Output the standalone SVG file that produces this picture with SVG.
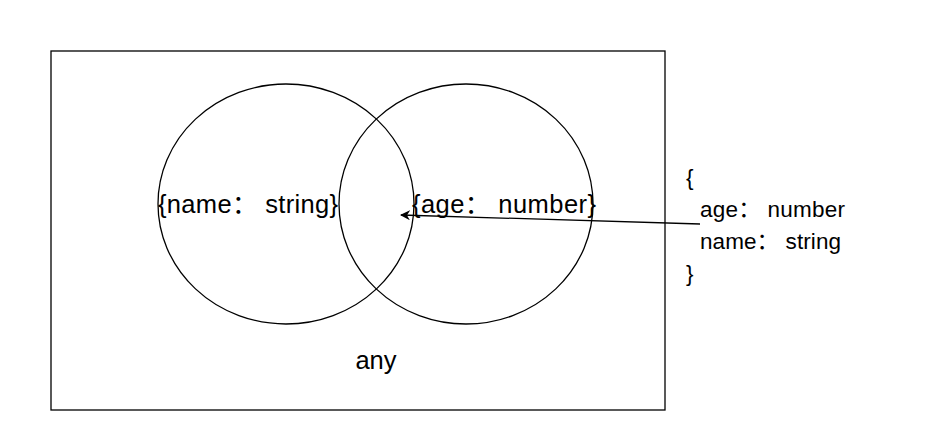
<svg xmlns="http://www.w3.org/2000/svg" width="936" height="446" viewBox="0 0 936 446">
<style>
.s{fill:none;stroke:#000;stroke-width:1.3}
.t{font-family:"Liberation Sans","Noto Sans CJK SC",Arial,sans-serif;fill:#000}
</style>
<defs>
<marker id="ah" viewBox="0 0 10 10" refX="9" refY="5" markerWidth="10" markerHeight="10" markerUnits="userSpaceOnUse" orient="auto">
<path d="M0,0 L10,5 L0,10 L3,5 Z" fill="#000"/>
</marker>
</defs>
<rect width="936" height="446" fill="#fff"/>
<g id="any">
<rect class="s" x="51" y="51" width="614" height="359"/>
<text class="t" x="376" y="369" font-size="25.5" text-anchor="middle">any</text>
</g>
<g id="name">
<ellipse class="s" cx="286" cy="204" rx="128" ry="120"/>
<text class="t" x="248" y="213" font-size="25.5" text-anchor="middle" textLength="180" lengthAdjust="spacing">{name： string}</text>
</g>
<g id="age">
<ellipse class="s" cx="466" cy="204" rx="127" ry="120"/>
<text class="t" x="504" y="213" font-size="25.5" text-anchor="middle" textLength="184" lengthAdjust="spacing">{age： number}</text>
</g>
<g id="obj">
<text class="t" x="686" y="185" font-size="22.5">{</text>
<text class="t" x="700" y="217" font-size="22.5" textLength="145" lengthAdjust="spacing">age： number</text>
<text class="t" x="700" y="249" font-size="22.5" textLength="141" lengthAdjust="spacing">name： string</text>
<text class="t" x="686" y="281" font-size="22.5">}</text>
</g>
<g id="connectors">
<line class="s" x1="700" y1="224" x2="401" y2="215" marker-end="url(#ah)"/>
</g>
</svg>
